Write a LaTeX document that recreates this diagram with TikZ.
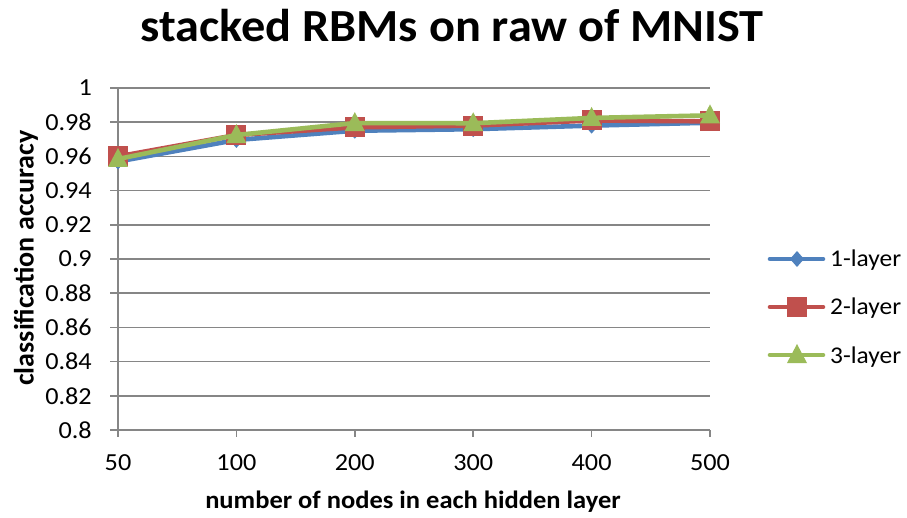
\documentclass[tikz,border=0pt]{standalone}
\usepackage{fontspec}
\setmainfont{Carlito}
\usetikzlibrary{shapes.geometric}
\definecolor{serA}{HTML}{4F81BD}
\definecolor{serB}{HTML}{C0504D}
\definecolor{serC}{HTML}{9BBB59}
\definecolor{gridc}{HTML}{868686}
\tikzset{
  gridline/.style={draw=gridc, line width=1.6pt},
  series/.style={line width=4.6pt, line join=round, line cap=round},
  ticklab/.style={font=\fontsize{24.5}{24.5}\selectfont, inner sep=0pt, xscale=1.07},
  axtitle/.style={font=\bfseries\fontsize{25}{25}\selectfont, inner sep=0pt},
  legtext/.style={font=\fontsize{24}{24}\selectfont, inner sep=0pt, anchor=base west, xscale=1.06},
  mkdiamond/.style={fill=serA, draw=none},
  mksquare/.style={fill=serB, draw=none},
  mktri/.style={fill=serC, draw=none}
}
% y position of an accuracy value (pixel units, y downwards)
\newcommand{\acc}[1]{430-(#1-0.8)*1710}
\newcommand{\drawdiamond}[2]{\fill[mkdiamond] (#1,#2) +(0,-8) -- +(7,0) -- +(0,8) -- +(-7,0) -- cycle;}
\newcommand{\drawsquare}[2]{\fill[mksquare] (#1,#2) +(-10,-10) rectangle +(10,10);}
\newcommand{\drawtri}[2]{\fill[mktri] (#1,#2) +(0,-11) -- +(10,8) -- +(-10,8) -- cycle;}
\begin{document}
\begin{tikzpicture}[x=1pt, y=-1pt]
\useasboundingbox (0,0) rectangle (907,518);
% title
\node[font=\bfseries\fontsize{46}{46}\selectfont, inner sep=0pt, anchor=base, xscale=1.05] (title) at (452,42) {stacked RBMs on raw of MNIST};
% horizontal grid lines and y tick labels
\foreach \v/\lab [count=\i from 0] in {0.8/0.8,0.82/0.82,0.84/0.84,0.86/0.86,0.88/0.88,0.9/0.9,0.92/0.92,0.94/0.94,0.96/0.96,0.98/0.98,1/1} {
  \pgfmathsetmacro{\yy}{430-\i*34.2}
  \draw[gridline] (110,\yy) -- (710,\yy);
  \node[ticklab, anchor=east] (ylab\i) at (92,\yy) {\lab};
}
% y axis
\draw[gridline] (118,88) -- (118,430);
% x ticks and labels
\foreach \lab [count=\i from 0] in {50,100,200,300,400,500} {
  \pgfmathsetmacro{\xx}{118+\i*118.4}
  \draw[gridline] (\xx,430) -- (\xx,437);
  \node[ticklab] (xlab\i) at (\xx,463) {\lab};
}
% axis titles
\node[axtitle, xscale=1.06] (xtitle) at (413,502) {number of nodes in each hidden layer};
\node[axtitle, rotate=90, font=\bfseries\fontsize{28}{28}\selectfont] (ytitle) at (26,258) {classification accuracy};
% series 1
\draw[series, serA] (118,{\acc{0.957}}) -- (236.4,{\acc{0.9696}}) -- (354.8,{\acc{0.975}}) -- (473.2,{\acc{0.9759}}) -- (591.6,{\acc{0.978}}) -- (710,{\acc{0.9797}});
\foreach \xx/\v in {118/0.957,236.4/0.9696,354.8/0.975,473.2/0.9759,591.6/0.978,710/0.9797} {
  \pgfmathsetmacro{\yy}{\acc{\v}}
  \drawdiamond{\xx}{\yy}
}
% series 2
\draw[series, serB] (118,{\acc{0.960}}) -- (236.4,{\acc{0.9725}}) -- (354.8,{\acc{0.977}}) -- (473.2,{\acc{0.978}}) -- (591.6,{\acc{0.981}}) -- (710,{\acc{0.9805}});
\foreach \xx/\v in {118/0.960,236.4/0.9725,354.8/0.977,473.2/0.978,591.6/0.981,710/0.9805} {
  \pgfmathsetmacro{\yy}{\acc{\v}}
  \drawsquare{\xx}{\yy}
}
% series 3
\draw[series, serC] (118,{\acc{0.9585}}) -- (236.4,{\acc{0.9725}}) -- (354.8,{\acc{0.9795}}) -- (473.2,{\acc{0.9794}}) -- (591.6,{\acc{0.9825}}) -- (710,{\acc{0.984}});
\foreach \xx/\v in {118/0.9585,236.4/0.9725,354.8/0.9795,473.2/0.9794,591.6/0.9825,710/0.984} {
  \pgfmathsetmacro{\yy}{\acc{\v}}
  \drawtri{\xx}{\yy}
}
% legend
\coordinate (l1a) at (770,259); \coordinate (l1b) at (823,259);
\coordinate (l2a) at (770,307); \coordinate (l2b) at (823,307);
\coordinate (l3a) at (770,355); \coordinate (l3b) at (823,355);
\draw[series, serA] (l1a) -- (l1b); \drawdiamond{797}{259}
\draw[series, serB] (l2a) -- (l2b); \drawsquare{797}{307}
\draw[series, serC] (l3a) -- (l3b); \drawtri{797}{355}
\node[legtext] (leg1) at (830,267) {1-layer};
\node[legtext] (leg2) at (830,315) {2-layer};
\node[legtext] (leg3) at (830,363) {3-layer};
\end{tikzpicture}
\end{document}
